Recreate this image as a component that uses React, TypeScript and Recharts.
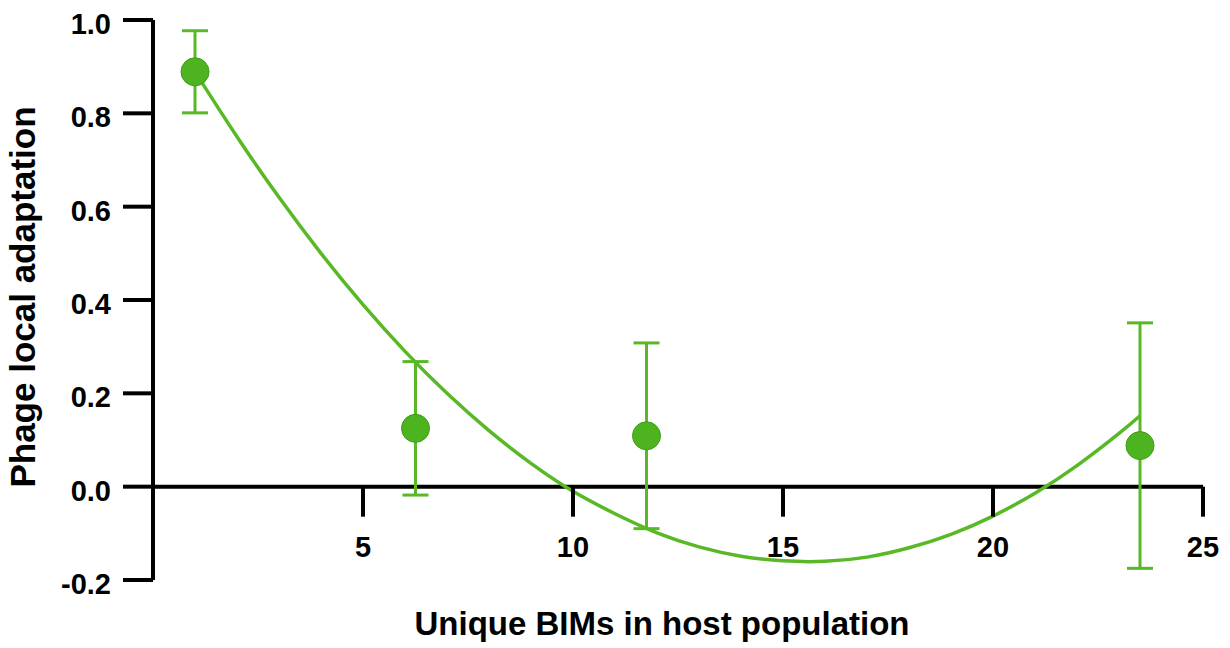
import React from "react"
import {
  ComposedChart,
  ErrorBar,
  Line,
  ReferenceLine,
  Scatter,
  XAxis,
  YAxis,
} from "recharts"

// mean local adaptation per host-population group (± SEM)
const BIM_COUNTS = [1, 6.25, 11.75, 23.5]
const ADAPTATION = [0.889, 0.125, 0.109, 0.088]
const ADAPTATION_SEM = [0.088, 0.143, 0.199, 0.263]

// quadratic fit, sampled along the curve
const FIT_X = [1, 2, 3, 4, 5, 6, 7, 8, 9, 10, 11, 12, 13, 14, 15, 16, 17, 18, 19, 20, 21, 22, 23, 23.5]
const FIT_Y = [
  0.889, 0.75, 0.62, 0.5, 0.39, 0.29, 0.2, 0.12, 0.05, -0.01, -0.058, -0.099, -0.129, -0.149,
  -0.159, -0.16, -0.151, -0.131, -0.102, -0.063, -0.014, 0.045, 0.114, 0.152,
]

const X_TICKS = [5, 10, 15, 20, 25]
const Y_TICKS = [-0.2, 0, 0.2, 0.4, 0.6, 0.8, 1.0]

const WIDTH = 1230
const HEIGHT = 648
const MARGIN = { top: 20, right: 27, left: 0, bottom: 0 }
const Y_AXIS_W = 153
const X_AXIS_H = 68
const Y_MIN = -0.2
const Y_MAX = 1.0
const PLOT_H = HEIGHT - MARGIN.top - MARGIN.bottom - X_AXIS_H
// distance from the bottom of the plot up to the y = 0 line
const ZERO_OFFSET = (PLOT_H * (0 - Y_MIN)) / (Y_MAX - Y_MIN)

const FONT = "'Liberation Sans', Arial, Helvetica, sans-serif"
const TICK_FONT = 29
const GREEN = "#58b826"
const DOT_FILL = "#4db41f"
const DOT_STROKE = "#3f9c17"
const AXIS_W = 4

const points = BIM_COUNTS.map((x, i) => ({ x, y: ADAPTATION[i], err: ADAPTATION_SEM[i] }))
const fit = FIT_X.map((x, i) => ({ x, y: FIT_Y[i] }))

function XTick(props: any) {
  const { x, y, payload } = props
  const zeroY = y - ZERO_OFFSET
  return (
    <g>
      <line x1={x} x2={x} y1={zeroY} y2={zeroY + 30} stroke="#000" strokeWidth={AXIS_W} />
      <text
        x={x}
        y={zeroY + 70}
        textAnchor="middle"
        fontFamily={FONT}
        fontWeight="bold"
        fontSize={TICK_FONT}
        fill="#000"
      >
        {payload.value}
      </text>
    </g>
  )
}

function YTick(props: any) {
  const { x, y, payload } = props
  return (
    <text
      x={x}
      y={y + 14}
      textAnchor="end"
      fontFamily={FONT}
      fontWeight="bold"
      fontSize={TICK_FONT}
      fill="#000"
    >
      {Number(payload.value).toFixed(1)}
    </text>
  )
}

function XLabel(props: any) {
  const { viewBox } = props
  return (
    <text
      x={viewBox.x + viewBox.width / 2 - 16}
      y={viewBox.y + 55}
      textAnchor="middle"
      fontFamily={FONT}
      fontWeight="bold"
      fontSize={33}
      fill="#000"
    >
      Unique BIMs in host population
    </text>
  )
}

function YLabel(props: any) {
  const { viewBox } = props
  const cx = 35
  const cy = viewBox.y + viewBox.height / 2 - 3
  return (
    <text
      x={cx}
      y={cy}
      transform={`rotate(-90, ${cx}, ${cy})`}
      textAnchor="middle"
      fontFamily={FONT}
      fontWeight="bold"
      fontSize={35}
      fill="#000"
    >
      Phage local adaptation
    </text>
  )
}

function Dot(props: any) {
  const { cx, cy } = props
  return <circle cx={cx} cy={cy} r={14} fill={DOT_FILL} stroke={DOT_STROKE} strokeWidth={1} />
}

export default function App() {
  return (
    <div style={{ position: "absolute", left: 0, top: 0, background: "#fff" }}>
      <ComposedChart width={WIDTH} height={HEIGHT} margin={MARGIN}>
        <XAxis
          type="number"
          dataKey="x"
          domain={[0, 25]}
          ticks={X_TICKS}
          axisLine={false}
          tickLine={false}
          tickSize={0}
          tickMargin={0}
          height={X_AXIS_H}
          tick={<XTick />}
          label={<XLabel />}
          allowDataOverflow
        />
        <YAxis
          type="number"
          domain={[Y_MIN, Y_MAX]}
          ticks={Y_TICKS}
          width={Y_AXIS_W}
          axisLine={{ stroke: "#000", strokeWidth: AXIS_W }}
          tickLine={{ stroke: "#000", strokeWidth: AXIS_W }}
          tickSize={30}
          tickMargin={12}
          tick={<YTick />}
          label={<YLabel />}
          allowDataOverflow
        />
        <ReferenceLine y={0} stroke="#000" strokeWidth={AXIS_W} />
        <Line
          data={fit}
          dataKey="y"
          type="natural"
          stroke={GREEN}
          strokeWidth={3.5}
          dot={false}
          activeDot={false}
          isAnimationActive={false}
        />
        <Scatter data={points} dataKey="y" shape={<Dot />} isAnimationActive={false}>
          <ErrorBar dataKey="err" direction="y" width={13} stroke={GREEN} strokeWidth={3} />
        </Scatter>
      </ComposedChart>
    </div>
  )
}
